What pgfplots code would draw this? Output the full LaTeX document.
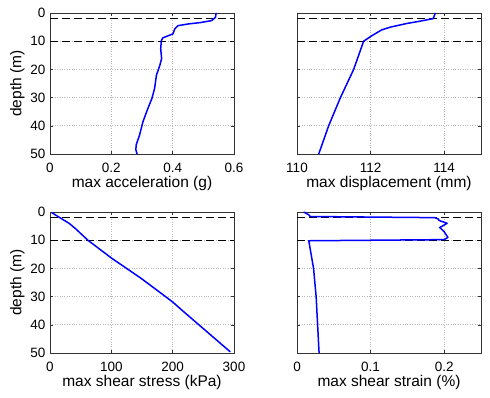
\documentclass[border=0pt]{standalone}
\usepackage{fontspec}
\setmainfont{Liberation Sans}
\usepackage{pgfplots}
\pgfplotsset{compat=1.18}
\begin{document}
\begin{tikzpicture}[x=1pt,y=1pt]
\useasboundingbox (0,0) rectangle (490,398);
\pgfplotsset{
  myax/.style={
    scale only axis, width=184pt, height=141pt,
    anchor=south west,
    y dir=reverse, ymin=0, ymax=50, ytick={0,10,20,30,40,50},
    grid=major, major grid style={gray!55, dotted, line width=0.6pt},
    tick align=inside, tick style={black!80, line width=0.5pt}, major tick length=3pt,
    axis line style={black!80, line width=0.7pt},
    every tick label/.append style={font=\fontsize{13.5}{15}\selectfont},
    label style={font=\fontsize{15.5}{18}\selectfont},
    /pgf/number format/assume math mode=true,
    xticklabel style={anchor=base, yshift=-19pt},
    xlabel style={at={(axis description cs:0.5,0)}, anchor=base, yshift=-34pt},
    yticklabel style={xshift=-1pt},
    ylabel style={yshift=-1pt},
    clip=true,
  },
  curve/.style={blue, line width=1.5pt, no marks, line join=round},
  dline/.style={black, line width=1.3pt, dash pattern=on 8pt off 4pt},
}
% top-left
\begin{axis}[myax, at={(50pt,244pt)}, xmin=0, xmax=0.6, xtick={0,0.2,0.4,0.6},
  xticklabel style={/pgf/number format/fixed, /pgf/number format/precision=1},
  xlabel={max acceleration (g)}, ylabel={depth (m)}]
\addplot[dline] coordinates {(0,2) (0.6,2)};
\addplot[dline] coordinates {(0,10) (0.6,10)};
\addplot[curve] coordinates {
(0.543,0) (0.541,0.4) (0.540,1.5) (0.527,2.7) (0.490,3.4) (0.450,3.9) (0.417,4.5) (0.407,5.6) (0.401,7.4)
(0.380,8.3) (0.368,8.8) (0.363,9.8) (0.361,12.7) (0.364,16.2) (0.358,18.6) (0.347,22.1) (0.341,26.8)
(0.332,30.4) (0.319,33.9) (0.303,38.6) (0.292,43.3) (0.281,46.8) (0.280,48.5) (0.284,50)};
\end{axis}
% top-right
\begin{axis}[myax, at={(297pt,244pt)}, xmin=110, xmax=115, xtick={110,112,114},
  yticklabels={}, xlabel={max displacement (mm)}]
\addplot[dline] coordinates {(110,2) (115,2)};
\addplot[dline] coordinates {(110,10) (115,10)};
\addplot[curve] coordinates {
(113.76,0) (113.70,2) (113.3,3.0) (112.99,3.7) (112.54,5) (112.3,6) (112.04,8) (111.81,10)
(111.54,20) (111.18,30) (110.86,40) (110.59,50)};
\end{axis}
% bottom-left
\begin{axis}[myax, at={(50pt,45pt)}, xmin=0, xmax=300, xtick={0,100,200,300},
  xlabel={max shear stress (kPa)}, ylabel={depth (m)}]
\addplot[dline] coordinates {(0,2) (300,2)};
\addplot[dline] coordinates {(0,10) (300,10)};
\addplot[curve] coordinates {
(2.7,0.2) (31.7,4.1) (42.6,6.1) (61.7,10) (100,16.3) (149,23.6) (200,31.9) (215,34.8) (247,40.8) (294,49.6)};
\end{axis}
% bottom-right
\begin{axis}[myax, at={(297pt,45pt)}, xmin=0, xmax=0.25, xtick={0,0.1,0.2},
  xticklabel style={/pgf/number format/fixed, /pgf/number format/precision=1},
  yticklabels={}, xlabel={max shear strain (\%)}]
\addplot[dline] coordinates {(0,2) (0.25,2)};
\addplot[dline] coordinates {(0,10) (0.25,10)};
\addplot[curve] coordinates {
(0.009,0) (0.016,1) (0.018,1.6) (0.187,2) (0.192,2.5) (0.193,3) (0.204,4) (0.194,5.5) (0.200,7) (0.205,9) (0.200,9.8)
(0.016,10.2) (0.0225,20) (0.026,30) (0.028,40) (0.030,50)};
\end{axis}
\end{tikzpicture}
\end{document}
